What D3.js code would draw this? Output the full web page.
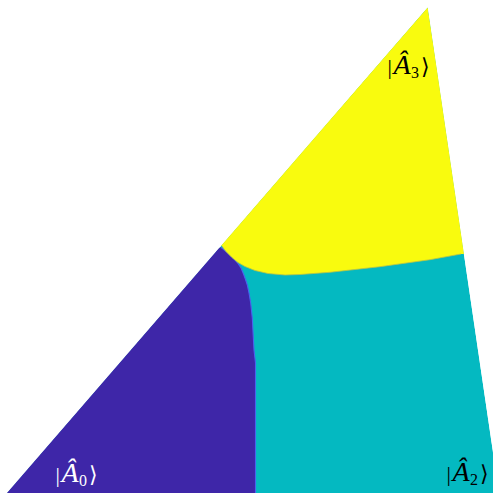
<!DOCTYPE html>
<html>
<head>
<meta charset="utf-8">
<script src="https://cdn.jsdelivr.net/npm/d3@7/dist/d3.min.js"></script>
<style>
  html, body { margin: 0; padding: 0; background: #ffffff; }
  svg { display: block; }
</style>
</head>
<body>
<div id="chart"></div>
<script>
// Projected simplex (x to the right, y upward) and its decision regions.
const simplexCorners = [[7, 0], [427.7, 485.7], [499, 0]];

// Boundary between the |A3> region and the rest, from right edge to left edge.
const boundaryA3 = [
  [461, 239], [430, 233.3], [380, 226.3], [330, 220.7], [300, 218.5],
  [285, 218], [268, 219.5], [255, 222.5], [245, 226.5], [238, 230.5],
  [232, 235.5], [226, 241.5], [221.5, 247.5]
];

// Boundary between the |A0> and |A2> regions, from the left edge down to the base.
const boundaryA0 = [
  [221, 245.5], [227, 241], [233, 235], [238, 229.5], [241, 225],
  [243.5, 219], [245.7, 213], [247.3, 208], [249, 200], [250.7, 190],
  [252.3, 175], [254, 143], [255.5, 130], [255.5, 0]
];

const regionNames = ["A0", "A2", "A3"];
const regionColors = ["#3e26a8", "#04b9c1", "#f9fb0e"];
const labelText = ["0", "2", "3"];
const labelAnchors = [[55.5, 11.3], [446.5, 12], [387.5, 419.5]];
const labelFill = ["#ffffff", "#000000", "#000000"];

const W = 493, H = 493;
const x = d3.scaleLinear().domain([0, 493]).range([0, W]);
const y = d3.scaleLinear().domain([0, 493]).range([H, 0]);
const color = d3.scaleOrdinal().domain(regionNames).range(regionColors);

const svg = d3.select("#chart").append("svg")
  .attr("width", W).attr("height", H)
  .attr("viewBox", `0 0 ${W} ${H}`);

const line = d3.line().x(d => x(d[0])).y(d => y(d[1]));

// Edges of the simplex as functions of height
const [cornerL, apex, cornerR] = simplexCorners;
const leftX = h => cornerL[0] + (apex[0] - cornerL[0]) * (h - cornerL[1]) / (apex[1] - cornerL[1]);
const rightX = h => cornerR[0] + (apex[0] - cornerR[0]) * (h - cornerR[1]) / (apex[1] - cornerR[1]);

const clip = svg.append("defs").append("clipPath").attr("id", "simplex");
clip.append("path").attr("d", line(simplexCorners) + "Z");

const g = svg.append("g").attr("clip-path", "url(#simplex)");

// |A2> fills the whole simplex underneath
g.append("path")
  .attr("d", line(simplexCorners) + "Z")
  .attr("fill", color("A2"));

// |A0> region: left edge, base, then the boundary curve back up
const regionA0 = [[leftX(boundaryA0[0][1]) - 2, boundaryA0[0][1]], [cornerL[0] - 2, cornerL[1]]]
  .concat(boundaryA0.slice().reverse());
g.append("path")
  .attr("d", line(regionA0) + "Z")
  .attr("fill", color("A0"));

g.append("path")
  .attr("d", line(boundaryA0))
  .attr("fill", "none")
  .attr("stroke", "#4a62ee")
  .attr("stroke-width", 1.1);

// |A3> region: apex, down the right edge, across the boundary curve
const lastA3 = boundaryA3[boundaryA3.length - 1];
const regionA3 = [apex, [rightX(boundaryA3[0][1]) + 2, boundaryA3[0][1]]]
  .concat(boundaryA3)
  .concat([[leftX(lastA3[1]) - 2, lastA3[1]]]);
g.append("path")
  .attr("d", line(regionA3) + "Z")
  .attr("fill", color("A3"));

g.append("path")
  .attr("d", line(boundaryA3))
  .attr("fill", "none")
  .attr("stroke", "#b9c24a")
  .attr("stroke-width", 0.8);

// Ket labels |Â_k>, one flowing text per label
const labels = svg.append("g")
  .attr("font-family", "'Liberation Serif', 'DejaVu Serif', serif");

labelText.forEach((t, i) => {
  const txt = labels.append("text")
    .attr("x", x(labelAnchors[i][0]))
    .attr("y", y(labelAnchors[i][1]))
    .attr("fill", labelFill[i])
    .attr("font-size", 22);
  txt.append("tspan").text("|");
  txt.append("tspan")
    .attr("dx", 1.5)
    .attr("font-size", 28)
    .attr("font-style", "italic")
    .text("\u00C2");
  txt.append("tspan")
    .attr("dx", 0.5).attr("dy", 4)
    .attr("font-size", 16)
    .text(t);
  txt.append("tspan")
    .attr("dx", 2).attr("dy", -4)
    .attr("font-family", "'DejaVu Serif', serif")
    .attr("font-weight", 300)
    .text("\u27E9");
});
</script>
</body>
</html>
